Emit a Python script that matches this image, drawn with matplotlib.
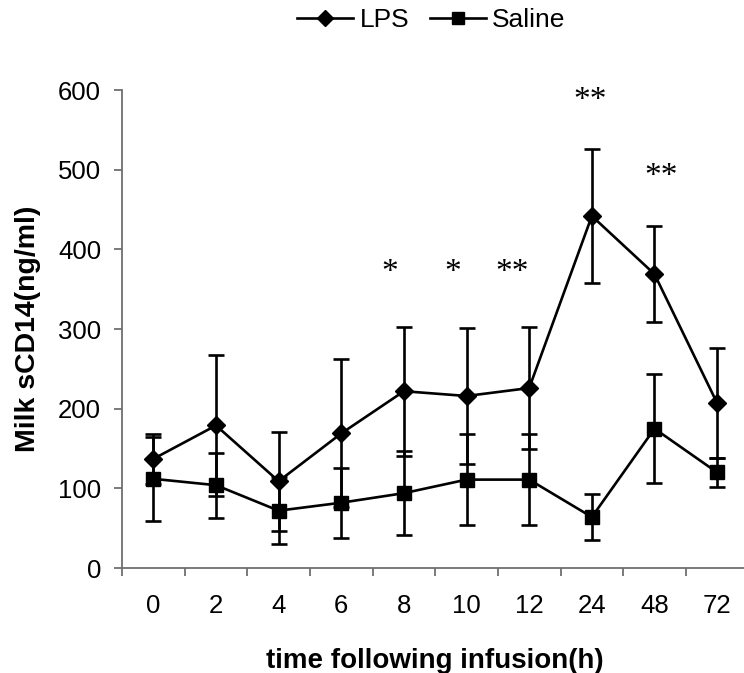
import numpy as np
import matplotlib.pyplot as plt
from matplotlib.lines import Line2D
from matplotlib.ticker import FixedLocator

plt.rcParams['font.family'] = ['Liberation Sans', 'DejaVu Sans']

# 데이터
time_labels = ['0', '2', '4', '6', '8', '10', '12', '24', '48', '72']
lps_mean = [137, 179, 109, 169, 222, 216, 226, 442, 369, 207]
lps_err = [31, 88, 62, 93, 81, 85, 77, 84, 60, 69]
saline_mean = [112, 104, 72, 82, 94, 111, 111, 64, 175, 120]
saline_err = [53, 41, 42, 44, 53, 57, 57, 29, 68, 18]

# 유의성 표시
sig_labels = ['*', '*', '**', '**', '**']
sig_x = [3.78, 4.78, 5.72, 6.97, 8.11]
sig_y = [371, 371, 371, 587, 491]

x = np.arange(len(time_labels))
axis_gray = '#707070'

fig = plt.figure(figsize=(7.44, 6.73), dpi=100)
ax = fig.add_axes([0.164, 0.156, 0.842, 0.710])

ax.errorbar(x, saline_mean, yerr=saline_err, fmt='-s', color='black',
            markersize=10.5, linewidth=1.9, elinewidth=1.9, capsize=6,
            capthick=1.9)
ax.errorbar(x, lps_mean, yerr=lps_err, fmt='-D', color='black',
            markersize=9, linewidth=1.9, elinewidth=1.9, capsize=6,
            capthick=1.9)

for lab, sx, sy in zip(sig_labels, sig_x, sig_y):
    ax.text(sx, sy, lab, ha='center', va='center', fontsize=24,
            family=['Liberation Serif', 'DejaVu Serif'])

ax.set_xlim(-0.5, len(time_labels) - 0.5)
ax.set_ylim(0, 600)
ax.set_yticks(range(0, 601, 100))
ax.set_xticks(x)
ax.set_xticklabels(time_labels)
ax.xaxis.set_minor_locator(FixedLocator(np.arange(-0.5, len(time_labels), 1.0)))

ax.tick_params(axis='x', which='major', length=0, pad=19, labelsize=18.5)
ax.tick_params(axis='x', which='minor', length=6, width=1.3, direction='out', color=axis_gray)
ax.tick_params(axis='y', length=6, width=1.3, direction='out', pad=9, labelsize=18.5, color=axis_gray)

for side in ['top', 'right']:
    ax.spines[side].set_visible(False)
for side in ['left', 'bottom']:
    ax.spines[side].set_color(axis_gray)
    ax.spines[side].set_linewidth(1.3)

ax.set_ylabel('Milk sCD14(ng/ml)', fontsize=20.5, fontweight='bold', labelpad=12)
ax.set_xlabel('time following infusion(h)', fontsize=20, fontweight='bold', labelpad=21)

# 범례 (선 + 마커만)
handles = [Line2D([], [], color='black', marker='D', markersize=8.5, linewidth=1.9),
           Line2D([], [], color='black', marker='s', markersize=9, linewidth=1.9)]
fig.legend(handles, ['LPS', 'Saline'], loc='center', bbox_to_anchor=(0.58, 0.970),
           ncol=2, frameon=False, fontsize=19, handlelength=2.1,
           columnspacing=0.8, handletextpad=0.25)

plt.savefig('out.png', dpi=100)
plt.close()
